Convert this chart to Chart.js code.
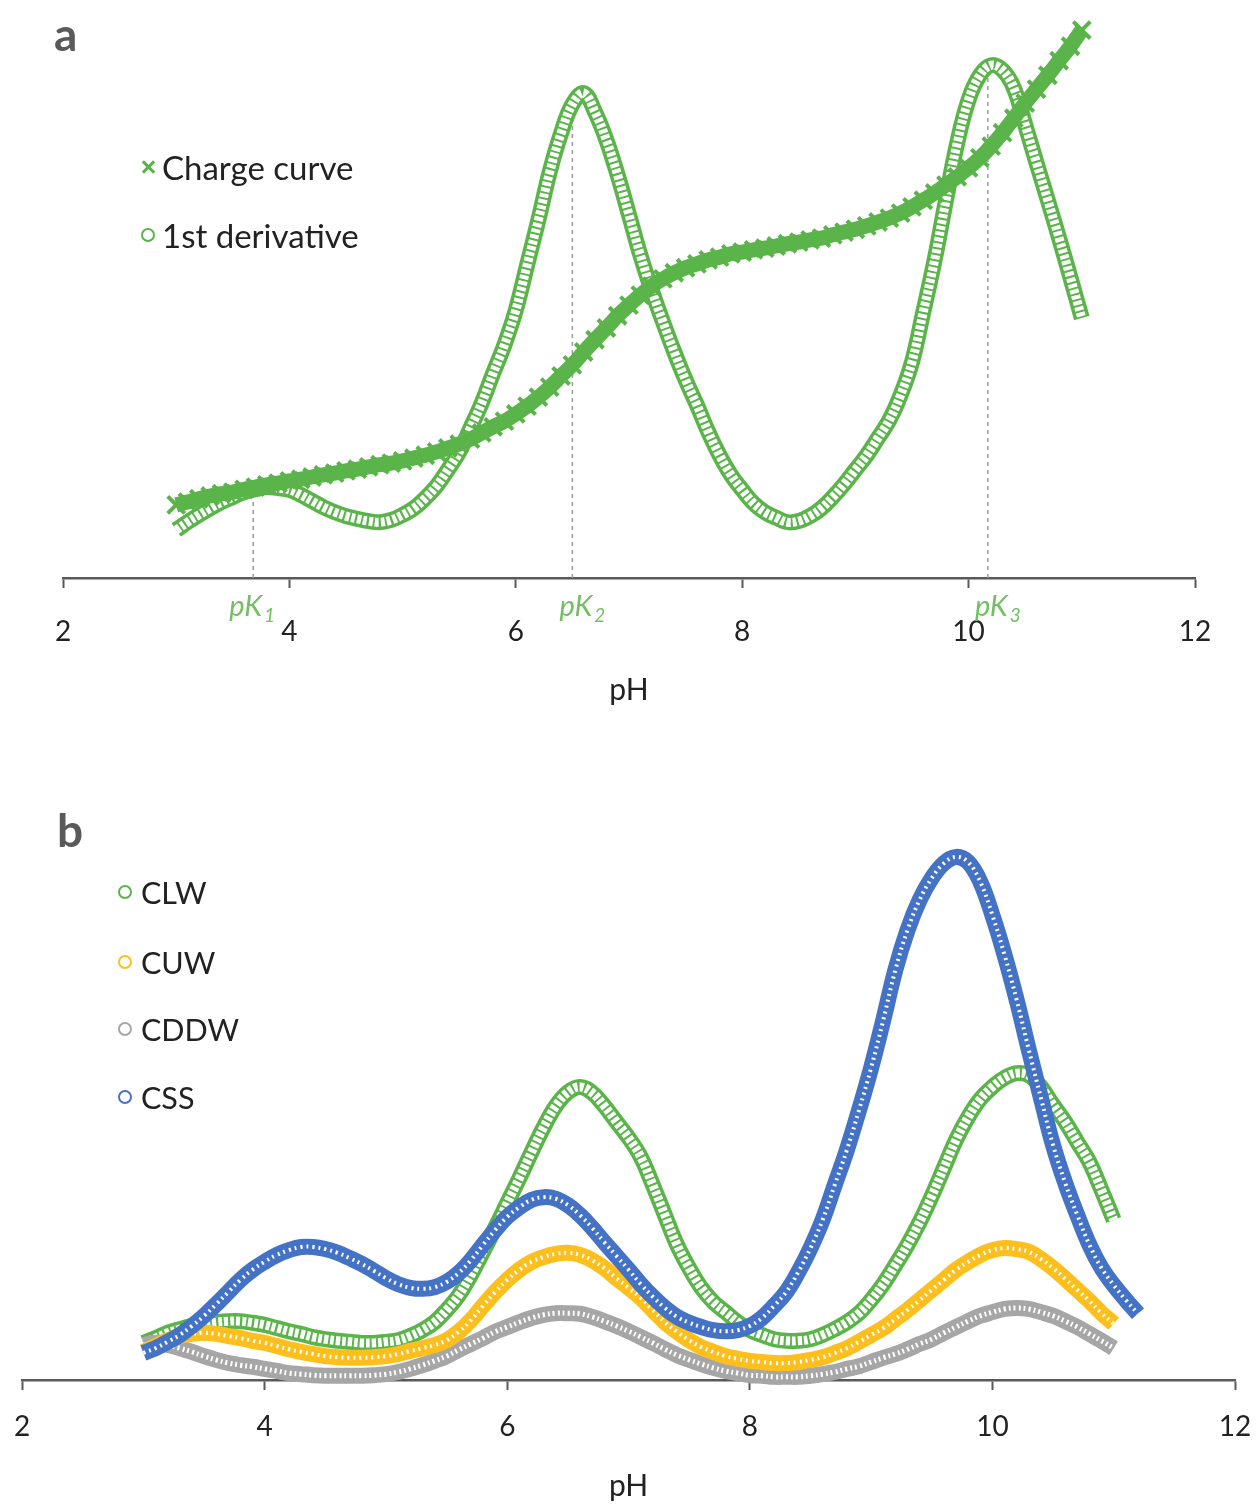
<!DOCTYPE html>
<html>
<head>
<meta charset="utf-8">
<title>Charge curve and first derivative vs pH</title>
<script src="https://cdn.jsdelivr.net/npm/chart.js@4.4.1/dist/chart.umd.min.js"></script>
<style>
  body { margin: 0; background: #fff; font-family: Lato, "Open Sans", sans-serif; }
  #page { position: relative; width: 1257px; height: 1506px; overflow: hidden; }
  canvas { position: absolute; }
  #chartA { top: 0; left: 0; }
  #chartB { top: 760px; left: -6px; }
  .tag { position: absolute; font-size: 46px; line-height: 46px; font-weight: bold; color: #5a5a5a; }
  .entry { position: absolute; line-height: 36px; color: #222; white-space: nowrap; }
  .entryA { font-size: 33px; }
  .entryB { font-size: 30.5px; }
  .ring { position: absolute; width: 10px; height: 10px; border: 2px solid; border-radius: 50%; }
  .cross { position: absolute; width: 14px; height: 14px; }
  .cross::before, .cross::after { content: ""; position: absolute; left: 6px; top: -1px; width: 3px; height: 16px; background: #5ab44a; }
  .cross::before { transform: rotate(45deg); }
  .cross::after { transform: rotate(-45deg); }
</style>
</head>
<body>
<div id="page">
  <canvas id="chartA" width="1257" height="708"></canvas>
  <canvas id="chartB" width="1278" height="744"></canvas>

  <div class="tag" style="left:54px; top:11px;">a</div>
  <div class="cross" style="left:141px; top:160px;"></div>
  <div class="entry entryA" style="left:162px; top:149px;">Charge curve</div>
  <div class="ring" style="left:141px; top:228px; border-color:#5ab44a;"></div>
  <div class="entry entryA" style="left:162px; top:217px;">1st derivative</div>

  <div class="tag" style="left:57px; top:807px;">b</div>
  <div class="ring" style="left:118px; top:885px; border-color:#5ab44a;"></div>
  <div class="entry entryB" style="left:141px; top:874px;">CLW</div>
  <div class="ring" style="left:118px; top:955px; border-color:#fcbf1e;"></div>
  <div class="entry entryB" style="left:141px; top:944px;">CUW</div>
  <div class="ring" style="left:118px; top:1022px; border-color:#a6a6a6;"></div>
  <div class="entry entryB" style="left:141px; top:1011px;">CDDW</div>
  <div class="ring" style="left:118px; top:1090px; border-color:#4472c4;"></div>
  <div class="entry entryB" style="left:141px; top:1079px;">CSS</div>
</div>

<script>
// ---- panel a data (relative units, 0-100) ----
const phA = [
  3.0, 3.1, 3.2, 3.3, 3.4, 3.5, 3.6, 3.7, 3.8, 3.9,
  4.0, 4.1, 4.2, 4.3, 4.4, 4.5, 4.6, 4.7, 4.8, 4.9,
  5.0, 5.1, 5.2, 5.3, 5.4, 5.5, 5.6, 5.7, 5.8, 5.9,
  6.0, 6.1, 6.2, 6.3, 6.4, 6.5, 6.6, 6.7, 6.8, 6.9,
  7.0, 7.1, 7.2, 7.3, 7.4, 7.5, 7.6, 7.7, 7.8, 7.9,
  8.0, 8.1, 8.2, 8.3, 8.4, 8.5, 8.6, 8.7, 8.8, 8.9,
  9.0, 9.1, 9.2, 9.3, 9.4, 9.5, 9.6, 9.7, 9.8, 9.9,
  10.0, 10.1, 10.2, 10.3, 10.4, 10.5, 10.6, 10.7, 10.8, 10.9,
  11.0
];
const chargeCurve = [
  13.1, 13.6, 14.2, 14.7, 15.1, 15.4, 15.9, 16.3, 16.7, 17.0,
  17.4, 17.7, 18.1, 18.5, 18.8, 19.2, 19.5, 19.9, 20.3, 20.6,
  21.0, 21.5, 22.0, 22.6, 23.3, 24.0, 24.9, 26.0, 27.1, 28.1,
  29.4, 30.8, 32.4, 34.2, 36.2, 38.2, 40.5, 42.7, 44.8, 47.0,
  48.9, 50.7, 52.3, 53.6, 54.7, 55.6, 56.3, 57.0, 57.5, 58.1,
  58.4, 58.8, 59.1, 59.5, 59.9, 60.2, 60.6, 60.9, 61.5, 62.0,
  62.5, 63.1, 63.8, 64.5, 65.4, 66.5, 67.7, 69.0, 70.4, 71.9,
  73.5, 75.3, 77.4, 79.8, 82.4, 85.1, 87.6, 90.1, 92.7, 95.3,
  98.2
];
const firstDerivative = [
  8.6, 10.0, 11.3, 12.5, 13.6, 14.5, 15.4, 15.9, 16.3, 16.1,
  15.8, 14.9, 13.8, 12.7, 11.8, 11.1, 10.6, 10.2, 10.0, 10.4,
  11.3, 12.5, 14.3, 16.5, 19.4, 22.6, 26.9, 31.4, 36.7, 41.8,
  48.0, 56.1, 64.2, 72.8, 79.7, 84.9, 86.9, 83.5, 78.5, 72.2,
  65.1, 57.9, 51.6, 45.9, 40.5, 35.5, 31.0, 26.2, 22.0, 18.5,
  15.8, 13.4, 11.8, 10.8, 10.0, 10.2, 11.1, 12.5, 14.5, 16.8,
  19.4, 22.0, 25.1, 28.3, 32.8, 38.7, 47.7, 57.0, 67.7, 78.0,
  85.7, 90.1, 91.9, 91.0, 87.8, 81.2, 74.4, 67.7, 60.9, 53.8,
  46.6
];
const pkValues = [3.68, 6.5, 10.17];
const pkTops = [16, 86, 91];
const pkNames = ['1', '2', '3'];

// ---- panel b data (relative units, 0-100) ----
const phB = [
  3.0, 3.1, 3.2, 3.3, 3.4, 3.5, 3.6, 3.7, 3.8, 3.9,
  4.0, 4.1, 4.2, 4.3, 4.4, 4.5, 4.6, 4.7, 4.8, 4.9,
  5.0, 5.1, 5.2, 5.3, 5.4, 5.5, 5.6, 5.7, 5.8, 5.9,
  6.0, 6.1, 6.2, 6.3, 6.4, 6.5, 6.6, 6.7, 6.8, 6.9,
  7.0, 7.1, 7.2, 7.3, 7.4, 7.5, 7.6, 7.7, 7.8, 7.9,
  8.0, 8.1, 8.2, 8.3, 8.4, 8.5, 8.6, 8.7, 8.8, 8.9,
  9.0, 9.1, 9.2, 9.3, 9.4, 9.5, 9.6, 9.7, 9.8, 9.9,
  10.0, 10.1, 10.2, 10.3, 10.4, 10.5, 10.6, 10.7, 10.8, 10.9,
  11.0, 11.1, 11.2
];
const clw = [
  7.0, 7.9, 8.9, 9.6, 10.2, 10.6, 10.9, 11.1, 11.1, 10.8,
  10.4, 9.8, 9.2, 8.7, 8.1, 7.7, 7.4, 7.2, 7.0, 7.0,
  7.2, 7.5, 8.3, 9.4, 10.9, 13.2, 16.0, 19.8, 24.2, 28.7,
  33.4, 38.1, 43.0, 47.7, 51.7, 54.3, 55.3, 54.2, 51.7, 48.7,
  45.7, 42.1, 36.8, 31.1, 25.5, 21.1, 17.4, 14.7, 12.8, 10.9,
  9.4, 8.5, 7.7, 7.4, 7.4, 7.7, 8.5, 9.6, 10.9, 12.6,
  15.1, 18.1, 21.7, 25.5, 29.8, 34.7, 40.0, 45.3, 49.6, 53.0,
  55.3, 57.0, 57.9, 57.5, 55.3, 51.9, 48.7, 44.9, 41.1, 35.8,
  30.2
];
const cuw = [
  5.3, 6.4, 7.5, 8.3, 8.7, 8.9, 8.7, 8.3, 7.9, 7.4,
  7.0, 6.4, 5.8, 5.3, 4.9, 4.5, 4.3, 4.2, 4.2, 4.3,
  4.5, 4.9, 5.5, 6.0, 6.6, 7.5, 9.1, 11.3, 14.0, 16.6,
  18.9, 20.8, 22.3, 23.2, 23.8, 24.0, 23.6, 22.6, 21.1, 19.2,
  17.4, 15.5, 13.2, 10.9, 9.1, 7.5, 6.2, 5.3, 4.5, 4.0,
  3.6, 3.4, 3.2, 3.2, 3.4, 3.8, 4.3, 5.1, 6.0, 7.2,
  8.5, 9.8, 11.5, 13.2, 15.1, 17.0, 18.9, 20.8, 22.3, 23.6,
  24.5, 24.9, 24.7, 24.2, 22.8, 21.1, 19.1, 17.0, 14.9, 12.6,
  10.6
];
const cddw = [
  6.6, 7.0, 6.6, 6.0, 5.3, 4.5, 3.8, 3.2, 2.8, 2.5,
  2.1, 1.7, 1.3, 1.1, 0.9, 0.8, 0.8, 0.8, 0.8, 0.9,
  1.1, 1.5, 2.1, 2.8, 3.6, 4.5, 5.7, 6.8, 7.9, 9.1,
  10.0, 10.9, 11.7, 12.3, 12.6, 12.6, 12.5, 11.9, 11.1, 10.2,
  9.2, 8.1, 7.0, 5.8, 4.7, 3.8, 3.0, 2.3, 1.7, 1.3,
  0.9, 0.8, 0.6, 0.6, 0.6, 0.8, 1.1, 1.5, 2.1, 2.6,
  3.4, 4.2, 4.9, 5.8, 6.8, 7.7, 8.9, 10.0, 11.1, 12.1,
  12.8, 13.4, 13.6, 13.4, 12.8, 12.1, 11.1, 10.0, 8.7, 7.4,
  6.0
];
const css = [
  5.1, 6.0, 7.2, 8.5, 10.2, 12.1, 14.3, 16.6, 18.9, 20.8,
  22.3, 23.6, 24.5, 25.1, 25.1, 24.7, 24.0, 23.0, 21.9, 20.6,
  19.2, 18.1, 17.4, 17.2, 17.5, 18.5, 20.2, 22.6, 25.5, 28.3,
  30.8, 32.6, 34.0, 34.5, 34.2, 33.0, 31.1, 28.7, 26.0, 23.4,
  20.8, 18.1, 15.7, 13.6, 11.9, 10.8, 10.0, 9.4, 9.2, 9.4,
  10.2, 11.7, 14.0, 16.6, 20.4, 24.9, 30.2, 36.8, 43.4, 50.9,
  58.9, 67.9, 77.4, 84.9, 90.6, 94.7, 97.5, 98.7, 97.7, 94.0,
  87.7, 80.2, 71.7, 62.3, 53.2, 44.3, 37.2, 31.1, 25.5, 21.1,
  17.9, 15.1, 12.5
];

const green = '#5ab44a';
const gold = '#fcbf1e';
const gray = '#a6a6a6';
const blue = '#4472c4';
const axisColor = '#595959';
const textColor = '#222';

function points(xs, ys) {
  return ys.map((y, i) => ({ x: xs[i], y: y }));
}

// a band of overlapping open circles: thick coloured line with a dashed white core
function ringBand(xs, ys, color, outer, inner, dash, order) {
  const pts = points(xs, ys);
  return [
    { data: pts, borderColor: color, borderWidth: outer, pointRadius: 0,
      tension: 0.4, order: order, clip: false },
    { data: pts, borderColor: '#fff', borderWidth: inner, borderDash: dash,
      pointRadius: 0, tension: 0.4, order: order - 0.5, clip: false }
  ];
}

function baseOptions(padding, axisHeight, tickPadding, titleSize) {
  return {
    responsive: false,
    animation: false,
    events: [],
    layout: { padding: padding },
    plugins: { legend: { display: false }, tooltip: { enabled: false } },
    scales: {
      x: {
        type: 'linear', min: 2, max: 12,
        ticks: { stepSize: 2, padding: tickPadding, color: textColor,
                 font: { size: 28, family: 'Lato' } },
        grid: { drawOnChartArea: false, drawTicks: true, tickLength: 10,
                tickColor: axisColor, tickWidth: 2 },
        border: { display: true, color: axisColor, width: 2.5 },
        title: { display: true, text: 'pH', color: textColor, padding: 0,
                 font: { size: titleSize, family: 'Lato' } },
        afterFit: function (scale) { scale.height = axisHeight; }
      },
      y: { display: false, min: 0, max: 100 }
    }
  };
}

// italic pK labels with subscripts below the axis
const pkLabels = {
  id: 'pkLabels',
  afterDraw(chart) {
    const ctx = chart.ctx;
    const xScale = chart.scales.x;
    const shift = [-1, 10, 10];
    const y = chart.chartArea.bottom + 38;
    ctx.save();
    ctx.fillStyle = '#72c063';
    ctx.textBaseline = 'alphabetic';
    pkValues.forEach((v, i) => {
      ctx.font = 'italic 29px Lato';
      const w1 = ctx.measureText('pK').width;
      ctx.font = 'italic 19px Lato';
      const w2 = ctx.measureText(pkNames[i]).width;
      const x0 = xScale.getPixelForValue(v) + shift[i] - (w1 + w2 + 2) / 2;
      ctx.font = 'italic 29px Lato';
      ctx.fillText('pK', x0, y);
      ctx.font = 'italic 19px Lato';
      ctx.fillText(pkNames[i], x0 + w1 + 2, y + 6);
    });
    ctx.restore();
  }
};

const pkLines = pkValues.map((v, i) => ({
  data: [{ x: v, y: 0 }, { x: v, y: pkTops[i] }],
  borderColor: '#9a9a9a', borderWidth: 1.5, borderDash: [4, 4],
  pointRadius: 0, order: 20
}));

new Chart(document.getElementById('chartA'), {
  type: 'line',
  data: {
    datasets: [
      ...pkLines,
      ...ringBand(phA, firstDerivative, green, 16, 9, [4, 2], 10),
      {
        data: points(phA, chargeCurve),
        borderColor: green, borderWidth: 15, tension: 0.4, clip: false,
        pointStyle: 'crossRot', pointRadius: 12, pointBorderWidth: 4,
        pointBorderColor: green, pointBackgroundColor: green, order: 1
      }
    ]
  },
  options: baseOptions({ top: 20, left: 63, right: 62, bottom: 0 }, 130, 27, 30),
  plugins: [pkLabels]
});

// canvas b is shifted 6px left and made wider so the axis runs from x=22 to x=1235
new Chart(document.getElementById('chartB'), {
  type: 'line',
  data: {
    datasets: [
      ...ringBand(phB, clw, green, 16, 9, [4, 2], 10),
      ...ringBand(phB, cddw, gray, 16, 5, [2, 3], 8),
      ...ringBand(phB, cuw, gold, 16, 4, [2, 4], 6),
      ...ringBand(phB, css, blue, 16, 4, [2, 4], 4)
    ]
  },
  options: baseOptions({ top: 90, left: 28, right: 37, bottom: 0 }, 124, 20, 30)
});
</script>
</body>
</html>
